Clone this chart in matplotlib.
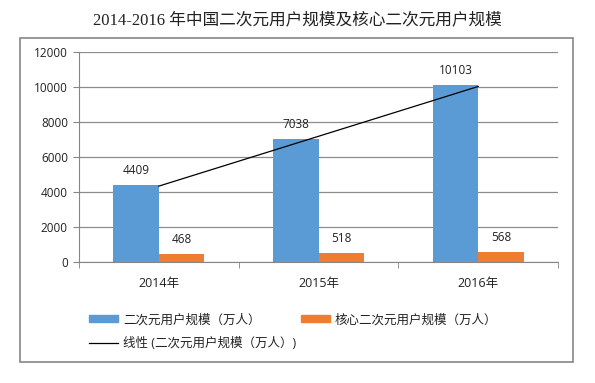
import matplotlib
matplotlib.use("Agg")
import matplotlib.pyplot as plt
import numpy as np
from matplotlib.patches import Rectangle, Patch
from matplotlib.lines import Line2D

categories = ["2014年", "2015年", "2016年"]
users = [4409, 7038, 10103]
core_users = [468, 518, 568]
series_names = ["二次元用户规模（万人）", "核心二次元用户规模（万人）"]
trend_name = "线性 (二次元用户规模（万人）)"
title = "2014-2016 年中国二次元用户规模及核心二次元用户规模"
yticks = [0, 2000, 4000, 6000, 8000, 10000, 12000]

W, H = 595, 383
fig = plt.figure(figsize=(W / 100, H / 100), dpi=100)
sans = ["Open Sans", "Noto Sans CJK SC"]

def px(x0, y0, x1, y1):
    return [x0 / W, 1 - y1 / H, (x1 - x0) / W, (y1 - y0) / H]

# outer border
fig.patches.append(Rectangle((20 / W, 1 - 362 / H), (573 - 20) / W, (362 - 38) / H,
                             transform=fig.transFigure, fill=False, edgecolor="#868686", lw=1.2))

fig.text(297 / W, 1 - 20 / H, title, ha="center", va="center", fontsize=12,
         family=["Liberation Serif", "Noto Sans CJK SC"], color="#222222")

ax = fig.add_axes(px(79, 52, 558, 262))
x = np.arange(len(categories))
bw = 0.285
c1, c2 = "#5B9BD5", "#ED7D31"
b1 = ax.bar(x - bw / 2, users, bw, color=c1, zorder=3)
b2 = ax.bar(x + bw / 2, core_users, bw, color=c2, zorder=3)
for xi, v in zip(x - bw / 2, users):
    ax.text(xi, v + 450, str(v), ha="center", va="bottom", fontsize=8.5, family=sans, color="#222222")
for xi, v in zip(x + bw / 2, core_users):
    ax.text(xi, v + 450, str(v), ha="center", va="bottom", fontsize=8.5, family=sans, color="#222222")

# linear trendline on first series
coef = np.polyfit(x + 1, users, 1)
tx = np.array([0, len(x) - 1])
ax.plot(tx, np.polyval(coef, tx + 1), color="black", lw=0.9, zorder=4)

ax.set_xlim(-0.5, len(x) - 0.5)
ax.set_ylim(0, 12000)
ax.set_yticks(yticks)
ax.set_yticklabels([str(t) for t in yticks], family=sans, fontsize=8.5, color="#222222")
ax.set_xticks(x)
ax.set_xticklabels(categories, family=sans, fontsize=9, color="#222222")
ax.set_xticks([-0.5, 0.5, 1.5, 2.5], minor=True)
ax.tick_params(axis="x", which="major", length=0, pad=11)
ax.tick_params(axis="x", which="minor", length=4, color="#868686")
ax.tick_params(axis="y", length=4, color="#868686", pad=4)
ax.grid(axis="y", color="#8c8c8c", lw=0.9, zorder=0)
for s in ["top", "right"]:
    ax.spines[s].set_visible(False)
for s in ["left", "bottom"]:
    ax.spines[s].set_color("#868686")

handles = [Patch(color=c1), Line2D([], [], color="black", lw=0.9),
           Patch(color=c2)]
labels = [series_names[0], trend_name, series_names[1]]
leg = fig.legend(handles, labels, loc="upper left", bbox_to_anchor=(78 / W, 1 - 302 / H),
                 ncol=2, frameon=False, prop={"family": sans, "size": 9},
                 handlelength=2.3, handleheight=0.45, handletextpad=0.4,
                 columnspacing=0.4, labelspacing=0.85)
for t in leg.get_texts():
    t.set_color("#222222")

fig.savefig("out.png", dpi=100)
